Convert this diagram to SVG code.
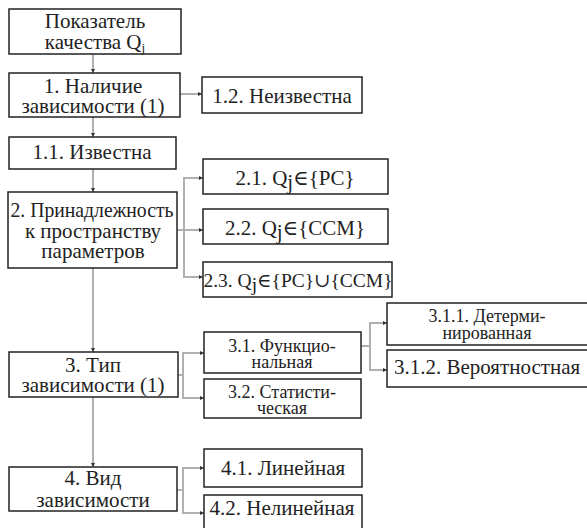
<svg xmlns="http://www.w3.org/2000/svg" width="587" height="528" viewBox="0 0 587 528">
<style>
.box{fill:#fff;stroke:#222;stroke-width:1.5}
text{font-family:"Liberation Serif","DejaVu Serif","Times New Roman",serif;font-size:21px;fill:#222;text-anchor:middle}
.t{font-size:18px}
.s{font-size:19.5px}
.c{fill:none;stroke:#b0b0b0;stroke-width:2}
.sub{font-size:13px}
</style>
<defs>
<marker id="a" markerWidth="4" markerHeight="4" refX="4" refY="2" orient="auto" markerUnits="userSpaceOnUse">
<path d="M0,0 L4,2 L0,4 Z" fill="#333"/>
</marker>
</defs>
<rect width="587" height="528" fill="#fff"/>
<g id="connectors">
<path class="c" d="M93,54 V73" marker-end="url(#a)"/>
<path class="c" d="M180,94 H202" marker-end="url(#a)"/>
<path class="c" d="M93,117 V137" marker-end="url(#a)"/>
<path class="c" d="M93,169 V192" marker-end="url(#a)"/>
<path class="c" d="M177,230 H184 V178 H203" marker-end="url(#a)"/>
<path class="c" d="M184,230 H203" marker-end="url(#a)"/>
<path class="c" d="M184,230 V277 H203" marker-end="url(#a)"/>
<path class="c" d="M93,268 V352" marker-end="url(#a)"/>
<path class="c" d="M178,375 H183 V353 H204" marker-end="url(#a)"/>
<path class="c" d="M183,375 V398 H204" marker-end="url(#a)"/>
<path class="c" d="M361,346 H370 V323 H387" marker-end="url(#a)"/>
<path class="c" d="M370,346 V370 H387" marker-end="url(#a)"/>
<path class="c" d="M93,397 V467" marker-end="url(#a)"/>
<path class="c" d="M177,490 H183 V468 H204" marker-end="url(#a)"/>
<path class="c" d="M183,490 V513 H204" marker-end="url(#a)"/>
</g>
<g id="n0"><rect class="box" x="9" y="9" width="172" height="45"/><text x="95" y="28">Показатель</text><text x="95" y="49">качества Q<tspan class="sub" dy="3">j</tspan></text></g>
<g id="n1"><rect class="box" x="9" y="73" width="171" height="44"/><text x="93" y="93">1. Наличие</text><text x="93" y="113">зависимости (1)</text></g>
<g id="n12"><rect class="box" x="202" y="77" width="160" height="36"/><text x="282" y="103">1.2. Неизвестна</text></g>
<g id="n11"><rect class="box" x="9" y="137" width="167" height="32"/><text x="92" y="159">1.1. Известна</text></g>
<g id="n2"><rect class="box" x="8" y="192" width="169" height="76"/><text x="92" y="217" textLength="163" lengthAdjust="spacingAndGlyphs">2. Принадлежность</text><text x="93" y="238">к пространству</text><text x="93" y="258">параметров</text></g>
<g id="n21"><rect class="box" x="203" y="159" width="185" height="35"/><text x="295" y="185">2.1. Q<tspan dy="4">j</tspan><tspan dy="-4">∈{PC}</tspan></text></g>
<g id="n22"><rect class="box" x="203" y="209" width="185" height="35"/><text x="295" y="235">2.2. Q<tspan dy="4">j</tspan><tspan dy="-4">∈{CCM}</tspan></text></g>
<g id="n23"><rect class="box" x="203" y="262" width="189" height="35"/><text class="s" x="298" y="287">2.3. Q<tspan dy="4">j</tspan><tspan dy="-4">∈{PC}∪{CCM}</tspan></text></g>
<g id="n3"><rect class="box" x="9" y="352" width="169" height="45"/><text x="93" y="372">3. Тип</text><text x="93" y="392">зависимости (1)</text></g>
<g id="n31"><rect class="box" x="204" y="332" width="157" height="41"/><text class="t" x="282" y="352">3.1. Функцио-</text><text class="t" x="282" y="368">нальная</text></g>
<g id="n32"><rect class="box" x="204" y="379" width="157" height="39"/><text class="t" x="282" y="398">3.2. Статисти-</text><text class="t" x="282" y="414">ческая</text></g>
<g id="n311"><rect class="box" x="387" y="303" width="210" height="42"/><text class="t" x="487" y="322">3.1.1. Детерми-</text><text class="t" x="487" y="339">нированная</text></g>
<g id="n312"><rect class="box" x="387" y="350" width="210" height="37"/><text x="487" y="374">3.1.2. Вероятностная</text></g>
<g id="n4"><rect class="box" x="9" y="467" width="168" height="44"/><text x="93" y="485">4. Вид</text><text x="93" y="507">зависимости</text></g>
<g id="n41"><rect class="box" x="204" y="449" width="158" height="38"/><text x="283" y="475">4.1. Линейная</text></g>
<g id="n42"><rect class="box" x="204" y="495" width="158" height="45"/><text x="282" y="515">4.2. Нелинейная</text></g>
</svg>
